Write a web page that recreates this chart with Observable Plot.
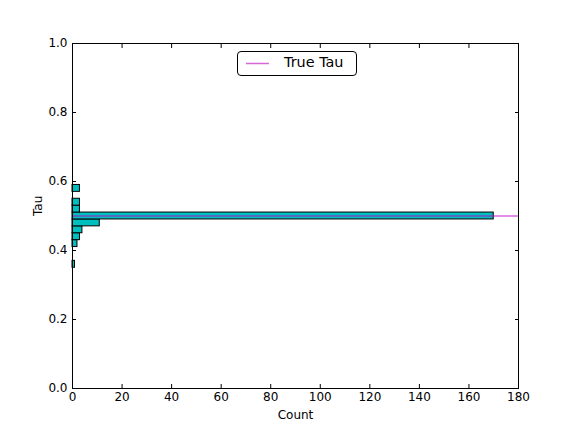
<!DOCTYPE html>
<html>
<head>
<meta charset="utf-8">
<script src="https://cdn.jsdelivr.net/npm/d3@7"></script>
<script src="https://cdn.jsdelivr.net/npm/@observablehq/plot@0.6"></script>
<style>
  body { margin: 0; background: #fff; }
  #wrap { position: relative; width: 576px; height: 432px; font-family: "DejaVu Sans", sans-serif; }
  #legend { position: absolute; left: 237px; top: 51px; width: 118px; height: 23px; border: 1px solid #000; border-radius: 4px; background: #fff; box-sizing: content-box; }
  #legend svg { position: absolute; left: 0; top: 0; }
  #legend span { position: absolute; left: 46px; top: 2px; font-size: 14.4px; color: #000; white-space: nowrap; }
</style>
</head>
<body>
<div id="wrap"></div>
<script>
// Histogram of Tau samples (horizontal bars)
const binLow  = [0.35, 0.41, 0.43, 0.45, 0.47, 0.49, 0.51, 0.53, 0.57];
const binHigh = [0.37, 0.43, 0.45, 0.47, 0.49, 0.51, 0.53, 0.55, 0.59];
const counts  = [1, 2, 3, 4, 11, 170, 3, 3, 3];
const trueTau = [0.5];
const xTicks = [0, 20, 40, 60, 80, 100, 120, 140, 160, 180];
const yTicks = [0.0, 0.2, 0.4, 0.6, 0.8, 1.0];
const legendLabel = "True Tau";

const bars = counts.map((c, i) => ({count: c, lo: binLow[i], hi: binHigh[i]}));
const barColor = "#00bfbf";
const tauColor = "#bf00bf";

const chart = Plot.plot({
  width: 576,
  height: 432,
  marginLeft: 72,
  marginRight: 58,
  marginTop: 43,
  marginBottom: 44,
  style: {fontFamily: "DejaVu Sans, sans-serif", fontSize: "12px", color: "#000", background: "#fff"},
  x: {domain: [0, 180], label: null},
  y: {domain: [0, 1], label: null},
  marks: [
    Plot.rectX(bars, {x: "count", y1: "lo", y2: "hi", fill: barColor, stroke: "#000", strokeWidth: 1}),
    Plot.ruleY(trueTau, {stroke: tauColor, strokeOpacity: 0.6, strokeWidth: 1.5}),
    Plot.frame({stroke: "#000", strokeWidth: 1}),
    // inward ticks on all four sides
    Plot.axisX({anchor: "bottom", ticks: xTicks, tickSize: -4, text: null, label: null}),
    Plot.axisX({anchor: "top", ticks: xTicks, tickSize: -4, text: null, label: null}),
    Plot.axisY({anchor: "left", ticks: yTicks, tickSize: -4, text: null, label: null}),
    Plot.axisY({anchor: "right", ticks: yTicks, tickSize: -4, text: null, label: null}),
    // tick labels
    Plot.axisX({anchor: "bottom", ticks: xTicks, tickSize: 0, tickPadding: 4, tickFormat: d3.format("d"), label: null, fontSize: 12}),
    Plot.axisY({anchor: "left", ticks: yTicks, tickSize: 0, tickPadding: 5, tickFormat: d3.format(".1f"), label: null, fontSize: 12}),
    // axis titles
    Plot.text(["Count"], {frameAnchor: "bottom", dy: 30, fontSize: 12, fill: "#000"}),
    Plot.text(["Tau"], {frameAnchor: "left", dx: -34, rotate: -90, fontSize: 12, fill: "#000"})
  ]
});

const wrap = document.getElementById("wrap");
wrap.appendChild(chart);

const legend = document.createElement("div");
legend.id = "legend";
legend.innerHTML = `<svg width="118" height="23"><line x1="8" x2="31" y1="11.5" y2="11.5" stroke="${tauColor}" stroke-opacity="0.6" stroke-width="1.5"/></svg><span>${legendLabel}</span>`;
wrap.appendChild(legend);
</script>
</body>
</html>
